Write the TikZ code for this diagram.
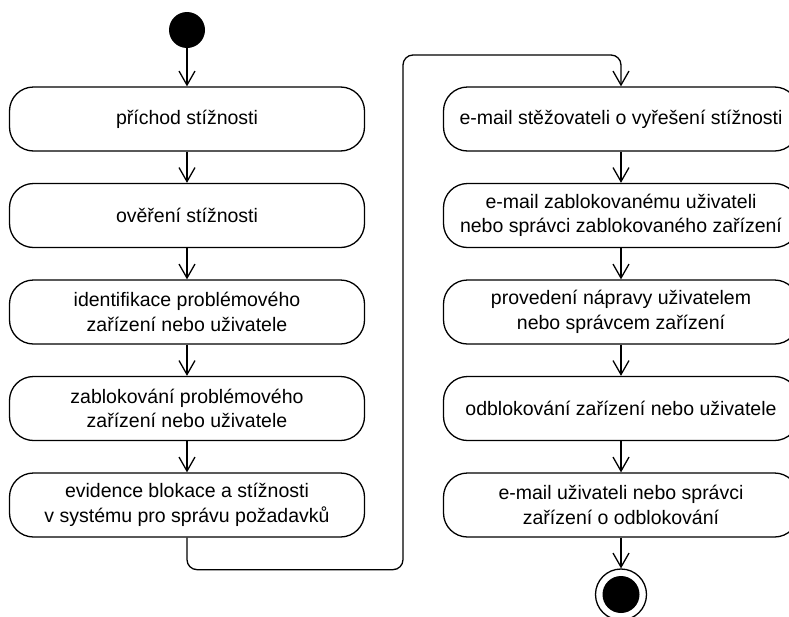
\documentclass[tikz,border=0pt]{standalone}
\usepackage{fontspec}
\setmainfont{Liberation Sans}
\usetikzlibrary{arrows.meta}
\begin{document}
\begin{tikzpicture}[x=1pt,y=-1pt,
  stepbox/.style={draw, line width=1.3pt, rounded corners=24pt, fill=white,
    minimum width=355pt, minimum height=64pt, align=center, inner sep=0pt,
    font=\fontsize{19.5}{24.5}\selectfont},
  flow/.style={line width=1.3pt, -{Straight Barb[length=14pt,width=16pt]}},
  initial/.style={circle, fill=black, minimum size=36pt, inner sep=0pt},
  final/.style={circle, draw, line width=1.3pt, fill=white, minimum size=51pt, inner sep=0pt},
  finaldot/.style={circle, fill=black, minimum size=37pt, inner sep=0pt},
]
\useasboundingbox (0,0) rectangle (789,616);
\clip (0,0) rectangle (789,616);

% left column
\node[initial] (start) at (187,30) {};
\node[stepbox] (l1) at (187,119)   {příchod stížnosti};
\node[stepbox] (l2) at (187,215.5) {ověření stížnosti};
\node[stepbox] (l3) at (187,312)   {identifikace problémového\\zařízení nebo uživatele};
\node[stepbox] (l4) at (187,408.5) {zablokování problémového\\zařízení nebo uživatele};
\node[stepbox] (l5) at (187,505)   {evidence blokace a stížnosti\\v systému pro správu požadavků};

% right column
\node[stepbox] (r1) at (621,119)   {e-mail stěžovateli o vyřešení stížnosti};
\node[stepbox] (r2) at (621,215.5) {e-mail zablokovanému uživateli\\nebo správci zablokovaného zařízení};
\node[stepbox] (r3) at (621,312)   {provedení nápravy uživatelem\\nebo správcem zařízení};
\node[stepbox] (r4) at (621,408.5) {odblokování zařízení nebo uživatele};
\node[stepbox] (r5) at (621,505)   {e-mail uživateli nebo správci\\zařízení o odblokování};
\node[final] (end) at (621,594.5) {};
\node[finaldot] (enddot) at (end.center) {};

% connectors
\draw[flow] (start) -- (l1);
\draw[flow] (l1) -- (l2);
\draw[flow] (l2) -- (l3);
\draw[flow] (l3) -- (l4);
\draw[flow] (l4) -- (l5);
\draw[flow, rounded corners=10pt] (l5.south) -- ++(0,32) -| (403,55) -| (r1.north);
\draw[flow] (r1) -- (r2);
\draw[flow] (r2) -- (r3);
\draw[flow] (r3) -- (r4);
\draw[flow] (r4) -- (r5);
\draw[flow] (r5) -- (end);
\end{tikzpicture}
\end{document}
